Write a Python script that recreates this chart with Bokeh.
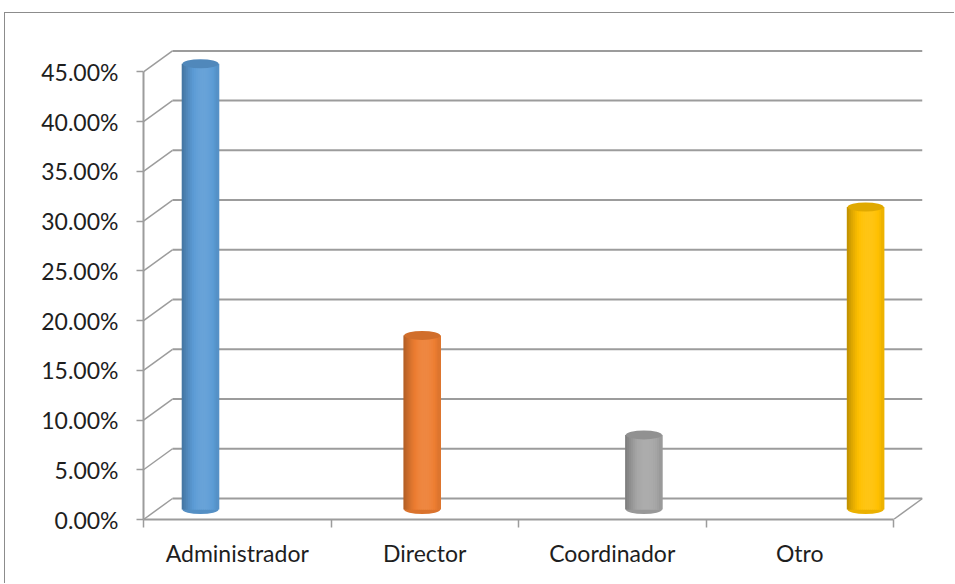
import math
from bokeh.plotting import figure
from bokeh.models import Range1d, FixedTicker, ColumnDataSource
from bokeh.embed import file_html
from bokeh.resources import INLINE

# ---- data ----
categories = ["Administrador", "Director", "Coordinador", "Otro"]
values = [44.8, 17.5, 7.5, 30.4]          # percent
bar_colors = ["#5B9BD5", "#ED7D31", "#A5A5A5", "#FFC000"]
y_ticks = [0, 5, 10, 15, 20, 25, 30, 35, 40, 45]

# ---- layout constants (pixels) ----
OFF_X, OFF_Y = 5, 13               # canvas offset on the page (border at 4,12)
W, H = 955 - OFF_X, 584 - OFF_Y
FRAME_L, FRAME_T = 143 - OFF_X, 46 - OFF_Y
FRAME_W, FRAME_H = 779, 473
PX_PER_CAT = 187.5
PX_PER_PCT = 9.947
DEPTH_DX_PX, DEPTH_DY_PX = 29, 21
BAR_PITCH = 221.7
BAR_X0 = 57
BAR_BASE = 10
BAR_PX_PER_PCT = 9.95
BAR_W_PX = 36
ELL_H_PX = 9
N_STRIPS = 18

GRID = "#9c9c9c"
TEXT = "#1e1e1e"
FONT = "Lato"

ncat = len(categories)
DX = DEPTH_DX_PX / PX_PER_CAT
DY = DEPTH_DY_PX / PX_PER_PCT

p = figure(width=W, height=H, output_backend="svg", toolbar_location=None,
           x_range=Range1d(0, FRAME_W / PX_PER_CAT),
           y_range=Range1d(0, FRAME_H / PX_PER_PCT),
           min_border_left=FRAME_L, min_border_right=W - FRAME_L - FRAME_W,
           min_border_top=FRAME_T, min_border_bottom=H - FRAME_T - FRAME_H,
           background_fill_color="white", border_fill_color="white")
p.outline_line_color = None
p.xgrid.visible = False
p.ygrid.visible = False
p.styles = {"margin-left": f"{OFF_X - 1}px", "margin-top": f"{OFF_Y - 1}px",
            "border-left": "1px solid #8c8c8c", "border-top": "1px solid #8c8c8c"}

p.extra_x_ranges = {"bars": Range1d(-BAR_X0 / BAR_PITCH, (FRAME_W - BAR_X0) / BAR_PITCH)}
p.extra_y_ranges = {"bars": Range1d(-BAR_BASE / BAR_PX_PER_PCT, (FRAME_H - BAR_BASE) / BAR_PX_PER_PCT)}

# ---- 3D frame: back wall gridlines, side wall diagonals, floor ----
p.segment(x0=[DX] * len(y_ticks), x1=[ncat + DX] * len(y_ticks),
          y0=[v + DY for v in y_ticks], y1=[v + DY for v in y_ticks],
          line_color=GRID, line_width=2)
p.segment(x0=[0] * len(y_ticks), x1=[DX] * len(y_ticks),
          y0=y_ticks, y1=[v + DY for v in y_ticks],
          line_color=GRID, line_width=1.5)
p.segment(x0=[ncat], x1=[ncat + DX], y0=[0], y1=[DY], line_color=GRID, line_width=1.5)


def shade(hexc, m):
    rgb = [int(hexc[i:i + 2], 16) for i in (1, 3, 5)]
    out = []
    for c in rgb:
        if m <= 1:
            v = c * m
        else:
            v = c + (255 - c) * (m - 1)
        out.append(max(0, min(255, int(round(v)))))
    return "#%02x%02x%02x" % tuple(out)


def light(t):
    return 0.72 + 0.36 * math.cos((t - 0.6) * math.pi / 1.25)


idx = list(range(ncat))
BW = BAR_W_PX / BAR_PITCH

# bottom ellipses
p.ellipse(x=idx, y=[0] * ncat, width=BAR_W_PX, height=ELL_H_PX,
          width_units="screen", height_units="screen",
          fill_color=[shade(c, 0.92) for c in bar_colors], line_color=None,
          x_range_name="bars", y_range_name="bars")

# solid underlay for each cylinder body
p.vbar(x=idx, top=values, bottom=0, width=BW * 0.97,
       fill_color=[shade(c, 0.95) for c in bar_colors], line_color=None,
       x_range_name="bars", y_range_name="bars")

# cylinder shading as narrow strips
sx, stop, scol = [], [], []
for i in idx:
    for k in range(N_STRIPS):
        t = (k + 0.5) / N_STRIPS
        sx.append(i + (t - 0.5) * BW)
        stop.append(values[i])
        scol.append(shade(bar_colors[i], light(t)))
src = ColumnDataSource(dict(x=sx, top=stop, color=scol))
p.vbar(x="x", top="top", bottom=0, width=BW / N_STRIPS * 1.8, fill_color="color",
       line_color=None, source=src, x_range_name="bars", y_range_name="bars")

# top ellipses
p.ellipse(x=idx, y=values, width=BAR_W_PX, height=ELL_H_PX,
          width_units="screen", height_units="screen",
          fill_color=[shade(c, 0.88) for c in bar_colors], line_color=None,
          x_range_name="bars", y_range_name="bars")

# ---- axes ----
ya = p.yaxis[0]
ya.ticker = FixedTicker(ticks=y_ticks)
ya.bounds = (0, y_ticks[-1])
ya.major_label_overrides = {v: f"{v:.2f}%" for v in y_ticks}
ya.axis_line_color = GRID
ya.axis_line_width = 2
ya.major_tick_line_color = GRID
ya.major_tick_line_width = 1.5
ya.major_tick_out = 7
ya.major_tick_in = 0
ya.minor_tick_line_color = None
ya.major_label_standoff = 18
ya.major_label_text_font = FONT
ya.major_label_text_font_size = "23px"
ya.major_label_text_color = TEXT

xa = p.xaxis[0]
xa.ticker = FixedTicker(ticks=[i + 0.5 for i in idx], minor_ticks=list(range(ncat + 1)))
xa.bounds = (0, ncat)
xa.major_label_overrides = {i + 0.5: c for i, c in zip(idx, categories)}
xa.axis_line_color = GRID
xa.axis_line_width = 2
xa.major_tick_line_color = None
xa.major_tick_out = 0
xa.major_tick_in = 0
xa.minor_tick_line_color = GRID
xa.minor_tick_line_width = 1.5
xa.minor_tick_out = 8
xa.minor_tick_in = 0
xa.major_label_standoff = 11
xa.major_label_text_font = FONT
xa.major_label_text_font_size = "23px"
xa.major_label_text_color = TEXT

open("out.html", "w").write(file_html(p, INLINE))
